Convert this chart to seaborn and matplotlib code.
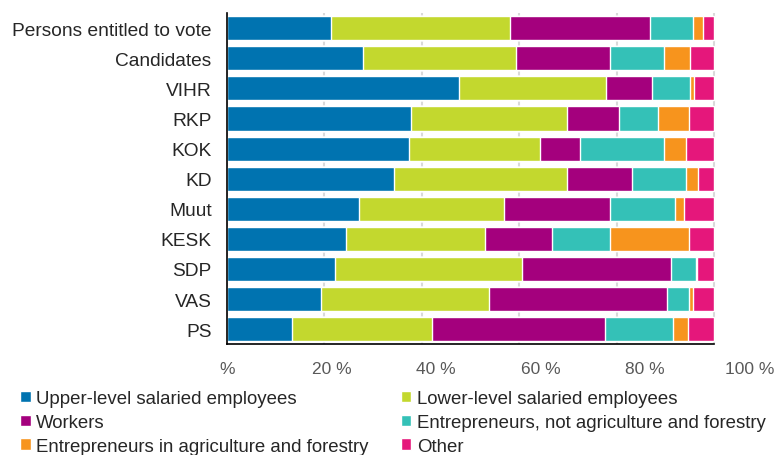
import numpy as np
import pandas as pd
import seaborn as sns
import matplotlib.pyplot as plt
from matplotlib.patches import Patch

# data (% share of each group)
groups = ["Persons entitled to vote", "Candidates", "VIHR", "RKP", "KOK", "KD",
          "Muut", "KESK", "SDP", "VAS", "PS"]
upper = [21.3, 28.0, 47.7, 37.8, 37.3, 34.2, 27.1, 24.4, 22.2, 19.4, 13.3]
lower = [36.8, 31.3, 30.2, 32.0, 26.9, 35.6, 29.7, 28.5, 38.3, 34.4, 28.8]
workers = [28.8, 19.3, 9.3, 10.7, 8.3, 13.4, 21.8, 13.8, 30.7, 36.5, 35.4]
entre = [8.7, 11.1, 7.9, 7.9, 17.2, 11.1, 13.3, 11.9, 5.0, 4.6, 14.0]
agri = [2.1, 5.4, 0.7, 6.5, 4.5, 2.4, 2.0, 16.3, 0.3, 0.7, 3.2]
other = [2.3, 4.9, 4.2, 5.1, 5.8, 3.3, 6.1, 5.1, 3.5, 4.4, 5.3]

series = ["Upper-level salaried employees", "Lower-level salaried employees",
          "Workers", "Entrepreneurs, not agriculture and forestry",
          "Entrepreneurs in agriculture and forestry", "Other"]
colors = ["#0073b0", "#c3d82e", "#a4007d", "#34c1b7", "#f7941d", "#e5177b"]
tick_vals = [0, 20, 40, 60, 80, 100]
tick_text = ["%", "20 %", "40 %", "60 %", "80 %", "100 %"]

df = pd.DataFrame(dict(zip(series, [upper, lower, workers, entre, agri, other])))
cum = df.cumsum(axis=1)
cum = cum.div(cum[series[-1]], axis=0) * 100
cum["group"] = groups

sns.set_style("white")
plt.rcParams["font.family"] = ["Liberation Sans", "DejaVu Sans"]

fig = plt.figure(figsize=(7.8, 4.56), dpi=100)
ax = fig.add_axes([0.291, 0.243, 0.687, 0.726])

# stacked bars: draw cumulative totals from the right end back to the left
for s, c in reversed(list(zip(series, colors))):
    sns.barplot(data=cum, x=s, y="group", orient="h", color=c, width=0.8,
                saturation=1, ax=ax, zorder=2)

ax.set_xlim(0, 110)
ax.set_ylim(10.5, -0.5)
ax.set_xticks(tick_vals)
ax.set_xticklabels([])
ax.tick_params(axis="x", length=0)
ax.tick_params(axis="y", length=0, pad=11, labelsize=13.8)
ax.set_xlabel("")
ax.set_ylabel("")
ax.grid(axis="x", color="#d9d9d9", linewidth=1.5, zorder=0)
ax.set_axisbelow(True)
for side in ["top", "right"]:
    ax.spines[side].set_visible(False)
for side in ["left", "bottom"]:
    ax.spines[side].set_color("black")
    ax.spines[side].set_linewidth(1.2)
ax.spines["bottom"].set_bounds(0, 100)

# tick labels sit slightly more spread than the gridlines in the original
k = 1.073
sec = ax.secondary_xaxis("bottom", functions=(lambda x: x / k, lambda x: x * k))
sec.set_xticks(tick_vals)
sec.set_xticklabels(tick_text)
sec.tick_params(length=0, pad=12, labelsize=12.5, labelcolor="#595959")
sec.spines["bottom"].set_visible(False)

handles = [Patch(facecolor=c, label=s) for s, c in zip(series, colors)]
order = [0, 2, 4, 1, 3, 5]
fig.legend(handles=[handles[i] for i in order], ncol=2, loc="upper left",
           bbox_to_anchor=(0.026, 0.142), frameon=False, fontsize=13.4,
           handlelength=0.55, handleheight=0.55, handletextpad=0.3,
           labelspacing=0.36, columnspacing=1.75, borderpad=0, borderaxespad=0)

fig.savefig("out.png", dpi=100)
